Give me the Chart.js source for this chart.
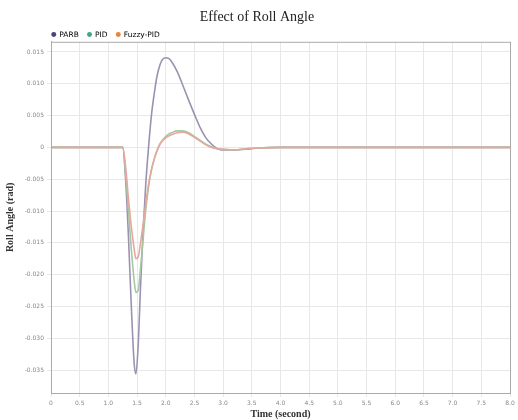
<!DOCTYPE html>
<html>
<head>
<meta charset="utf-8">
<script src="https://cdn.jsdelivr.net/npm/chart.js@4.4.1/dist/chart.umd.min.js"></script>
<style>
  html, body { margin: 0; padding: 0; background: #fff; }
  #wrap { width: 518px; height: 420px; }
</style>
</head>
<body>
<div id="wrap"><canvas id="rollChart" width="518" height="420"></canvas></div>
<script>
const times = [0, 1.2, 1.25, 1.3, 1.35, 1.4, 1.45, 1.48, 1.52, 1.56, 1.6, 1.65, 1.7, 1.75, 1.8, 1.85, 1.9, 1.95,
  2.0, 2.05, 2.1, 2.2, 2.3, 2.4, 2.5, 2.6, 2.7, 2.8, 2.9, 3.0, 3.2, 3.4, 3.6, 4.0, 5.0, 6.0, 7.0, 8.0];

const parb = [0, 0, 0, -0.005, -0.014, -0.025, -0.034, -0.0356, -0.031, -0.022, -0.014, -0.006, 0.0, 0.005, 0.0085, 0.0113, 0.013, 0.0139,
  0.0141, 0.014, 0.0135, 0.0119, 0.0097, 0.0074, 0.0052, 0.0031, 0.0015, 0.0005, -0.0002, -0.0004, -0.0004, -0.0003, -0.0001, 0, 0, 0, 0, 0];

const pid = [0, 0, 0, -0.004, -0.010, -0.016, -0.021, -0.0228, -0.0225, -0.019, -0.015, -0.010, -0.0062, -0.0036, -0.0018, -0.0004, 0.0006, 0.0012,
  0.0017, 0.0021, 0.0023, 0.0026, 0.0026, 0.0023, 0.0017, 0.0011, 0.0005, 0.0001, -0.0002, -0.0003, -0.0004, -0.0002, -0.0001, 0, 0, 0, 0, 0];

const fuzzyPid = [0, 0, 0, -0.003, -0.008, -0.0125, -0.016, -0.0175, -0.0172, -0.0150, -0.0125, -0.0090, -0.0058, -0.0035, -0.0018, -0.0005, 0.0005, 0.0011,
  0.0015, 0.0018, 0.0020, 0.0023, 0.0024, 0.0021, 0.0016, 0.0010, 0.0004, 0.0000, -0.0002, -0.0003, -0.0004, -0.0002, -0.0001, 0, 0, 0, 0, 0];

const seriesNames = ["PARB", "PID", "Fuzzy-PID"];
const lineColors = ["#9a92b0", "#a6c6a4", "#e6a89c"];
const dotColors = ["#45437a", "#3fa58a", "#e8843c"];
const drawOrder = [2, 1, 0];

const toPoints = vals => times.map((t, i) => ({ x: t, y: vals[i] }));
const allSeries = [parb, pid, fuzzyPid];

// frame round the plot area, and legend moved over the plot's left edge
const frame = {
  id: "frame",
  afterLayout(chart) {
    if (!chart.legend) return;
    chart.legend.left = chart.chartArea.left - 8;
    chart.legend.top = chart.chartArea.top - 20;
  },
  afterDraw(chart) {
    const { ctx, chartArea: a } = chart;
    ctx.save();
    ctx.strokeStyle = "#aaa";
    ctx.lineWidth = 1;
    ctx.strokeRect(a.left + 0.5, a.top + 0.5, a.right - a.left, a.bottom - a.top);
    ctx.restore();
  }
};

new Chart(document.getElementById("rollChart"), {
  type: "line",
  data: {
    datasets: allSeries.map((vals, i) => ({
      label: seriesNames[i],
      data: toPoints(vals),
      borderColor: lineColors[i],
      backgroundColor: dotColors[i],
      borderWidth: 1.6,
      pointRadius: 0,
      cubicInterpolationMode: "monotone",
      fill: false,
      order: drawOrder[i]
    }))
  },
  options: {
    responsive: false,
    animation: false,
    layout: { padding: { left: 4, right: 8, top: 6, bottom: 0 } },
    plugins: {
      title: {
        display: true,
        text: "Effect of Roll Angle",
        color: "#222",
        font: { family: "Liberation Serif", size: 14, weight: "normal" },
        padding: { top: 3, bottom: 0 }
      },
      legend: {
        display: true,
        align: "start",
        maxHeight: 16,
        labels: {
          usePointStyle: true,
          pointStyle: "circle",
          boxWidth: 3.5,
          boxHeight: 3.5,
          padding: 9,
          color: "#666",
          font: { family: "DejaVu Sans", size: 7.5 },
          generateLabels: chart => seriesNames.map((name, i) => ({
            text: name,
            fillStyle: dotColors[i],
            strokeStyle: dotColors[i],
            lineWidth: 0,
            pointStyle: "circle",
            datasetIndex: i
          }))
        }
      },
      tooltip: { enabled: false }
    },
    scales: {
      x: {
        type: "linear",
        min: 0,
        max: 8,
        grid: { color: "#e8e8e8", drawTicks: true, tickLength: 4 },
        border: { color: "#aaa" },
        ticks: {
          stepSize: 0.5,
          color: "#888",
          font: { family: "DejaVu Sans", size: 6 },
          maxRotation: 0,
          callback: v => v === 0 ? "0" : v.toFixed(1)
        },
        title: {
          display: true,
          text: "Time (second)",
          color: "#333",
          font: { family: "Liberation Serif", size: 10, weight: "bold" },
          padding: { top: 0, bottom: 0 }
        },
        afterFit: scale => { scale.height = 27; }
      },
      y: {
        min: -0.0386,
        max: 0.0166,
        grid: { color: "#e8e8e8", tickLength: 4 },
        border: { color: "#aaa" },
        ticks: {
          stepSize: 0.005,
          includeBounds: false,
          color: "#888",
          font: { family: "DejaVu Sans", size: 6 },
          callback: v => Math.abs(v) < 1e-9 ? "0" : v.toFixed(3)
        },
        title: {
          display: true,
          text: "Roll Angle (rad)",
          color: "#333",
          font: { family: "Liberation Serif", size: 10, weight: "bold" },
          padding: { top: 0, bottom: 6 }
        },
        afterFit: scale => { scale.width = 47; }
      }
    }
  },
  plugins: [frame]
});
</script>
</body>
</html>
